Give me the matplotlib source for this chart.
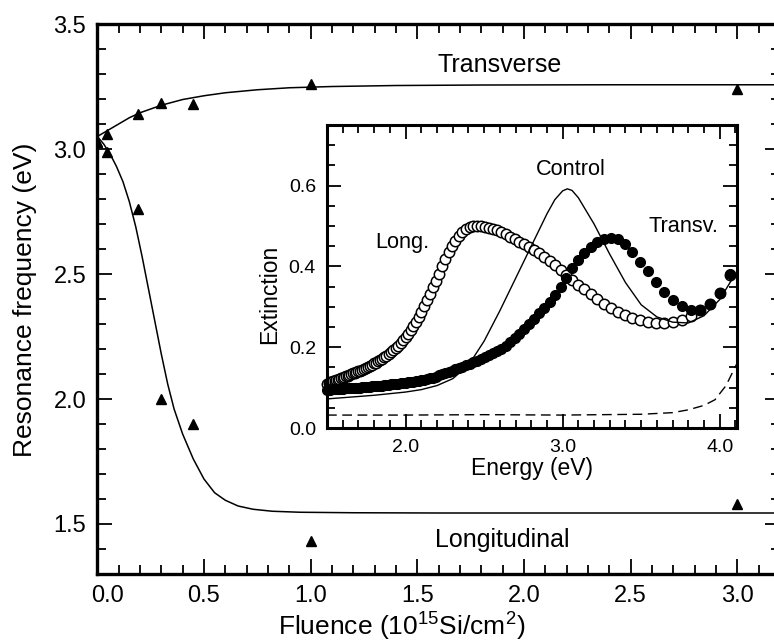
import numpy as np
import matplotlib
matplotlib.use("Agg")
from matplotlib import pyplot as plt
from matplotlib.ticker import MultipleLocator, FormatStrFormatter
from matplotlib.transforms import ScaledTranslation

plt.rcParams["font.family"] = ["Liberation Sans", "DejaVu Sans"]
plt.rcParams["mathtext.fontset"] = "custom"
plt.rcParams["mathtext.rm"] = "Liberation Sans"

# main panel: resonance position vs fluence
fluence = [0.0, 0.045, 0.19, 0.30, 0.45, 1.0, 3.0]
transverse = [3.03, 3.06, 3.14, 3.185, 3.18, 3.26, 3.24]
longitudinal = [3.03, 2.99, 2.76, 2.00, 1.90, 1.43, 1.58]

# fitted guide curves
fit_t_x = [0.0, 0.05, 0.10, 0.15, 0.20, 0.30, 0.40, 0.50, 0.60, 0.75, 0.90, 1.10, 1.40, 1.80, 2.40, 3.20]
fit_t_y = [3.05, 3.075, 3.10, 3.125, 3.145, 3.175, 3.198, 3.213, 3.225, 3.237, 3.245, 3.250, 3.254, 3.256, 3.257, 3.257]
fit_l_x = [0.0, 0.03, 0.06, 0.09, 0.12, 0.15, 0.18, 0.21, 0.24, 0.27, 0.30, 0.33, 0.36, 0.40, 0.45,
           0.50, 0.55, 0.60, 0.66, 0.73, 0.82, 0.95, 1.20, 1.60, 3.20]
fit_l_y = [3.05, 3.02, 2.98, 2.93, 2.87, 2.79, 2.69, 2.57, 2.44, 2.31, 2.18, 2.06, 1.96, 1.86, 1.76,
           1.68, 1.625, 1.595, 1.572, 1.559, 1.551, 1.547, 1.545, 1.544, 1.544]

# inset: extinction spectra (5 nm wavelength steps)
wavelength = np.arange(825, 300, -5)
energy = 1239.84 / wavelength
ext_long = [0.110, 0.111, 0.113, 0.114, 0.116, 0.117, 0.119, 0.120, 0.122, 0.123,
            0.125, 0.126, 0.128, 0.129, 0.131, 0.133, 0.135, 0.137, 0.139, 0.140,
            0.142, 0.144, 0.146, 0.149, 0.152, 0.154, 0.157, 0.160, 0.162, 0.165,
            0.168, 0.171, 0.175, 0.179, 0.183, 0.187, 0.192, 0.198, 0.204, 0.211,
            0.218, 0.225, 0.233, 0.243, 0.252, 0.263, 0.275, 0.288, 0.302, 0.317,
            0.332, 0.348, 0.365, 0.382, 0.400, 0.418, 0.435, 0.450, 0.463, 0.475,
            0.485, 0.492, 0.497, 0.500, 0.501, 0.500, 0.498, 0.496, 0.493, 0.489,
            0.484, 0.479, 0.473, 0.467, 0.461, 0.455, 0.448, 0.441, 0.433, 0.424,
            0.414, 0.403, 0.391, 0.379, 0.367, 0.355, 0.343, 0.331, 0.319, 0.307,
            0.297, 0.288, 0.280, 0.273, 0.267, 0.263, 0.260, 0.260, 0.262, 0.267,
            0.278, 0.292, 0.307, 0.334, 0.378]
ext_trans = [0.095, 0.095, 0.095, 0.096, 0.096, 0.096, 0.096, 0.097, 0.097, 0.097,
             0.097, 0.098, 0.098, 0.098, 0.098, 0.099, 0.099, 0.099, 0.100, 0.100,
             0.100, 0.101, 0.101, 0.101, 0.102, 0.102, 0.103, 0.103, 0.104, 0.104,
             0.105, 0.105, 0.106, 0.106, 0.107, 0.108, 0.108, 0.109, 0.110, 0.111,
             0.111, 0.112, 0.113, 0.114, 0.115, 0.116, 0.117, 0.118, 0.120, 0.121,
             0.123, 0.124, 0.126, 0.130, 0.133, 0.136, 0.139, 0.142, 0.145, 0.148,
             0.152, 0.155, 0.159, 0.163, 0.167, 0.171, 0.176, 0.180, 0.185, 0.190,
             0.196, 0.203, 0.212, 0.222, 0.233, 0.244, 0.257, 0.270, 0.284, 0.298,
             0.313, 0.330, 0.350, 0.372, 0.395, 0.415, 0.433, 0.448, 0.460, 0.468,
             0.471, 0.468, 0.456, 0.436, 0.412, 0.389, 0.362, 0.336, 0.316, 0.302,
             0.293, 0.291, 0.308, 0.335, 0.382]
ctrl_e = [1.50, 1.60, 1.70, 1.80, 1.90, 2.00, 2.10, 2.20, 2.30, 2.40, 2.50, 2.60, 2.70, 2.80,
          2.90, 2.95, 3.00, 3.03, 3.06, 3.10, 3.20, 3.30, 3.40, 3.50, 3.60, 3.70, 3.80, 3.90,
          4.00, 4.10]
ctrl_ext = [0.072, 0.075, 0.078, 0.081, 0.085, 0.089, 0.095, 0.105, 0.122, 0.155, 0.215, 0.290,
            0.370, 0.450, 0.530, 0.565, 0.587, 0.592, 0.588, 0.570, 0.505, 0.430, 0.360, 0.305,
            0.275, 0.262, 0.260, 0.278, 0.318, 0.382]
base_e = [1.50, 2.00, 2.50, 3.00, 3.50, 3.70, 3.80, 3.90, 3.97, 4.04, 4.11]
base_ext = [0.032, 0.032, 0.033, 0.032, 0.034, 0.038, 0.045, 0.056, 0.070, 0.105, 0.160]

fig = plt.figure(figsize=(7.74, 6.44), dpi=100)
ax = fig.add_axes([0.1257, 0.1087, 0.882, 0.854])

ax.plot(fit_t_x, fit_t_y, color="black", lw=1.1)
ax.plot(fit_l_x, fit_l_y, color="black", lw=1.1)
ax.plot(fluence, transverse, "^", color="black", ms=7.5)
ax.plot(fluence, longitudinal, "^", color="black", ms=7.5)

ax.set_xlim(0, 3.2)
ax.set_ylim(1.3, 3.5)
ax.set_xticks([0.0, 0.5, 1.0, 1.5, 2.0, 2.5, 3.0])
ax.set_yticks([1.5, 2.0, 2.5, 3.0, 3.5])
ax.xaxis.set_major_formatter(FormatStrFormatter("%.1f"))
ax.yaxis.set_major_formatter(FormatStrFormatter("%.1f"))
ax.xaxis.set_minor_locator(MultipleLocator(0.1))
ax.yaxis.set_minor_locator(MultipleLocator(0.1))
ax.tick_params(which="both", direction="in", top=True, right=True, width=1.3, labelsize=17)
ax.tick_params(which="major", length=11, pad=8)
ax.tick_params(which="minor", length=6.5)
for s in ax.spines.values():
    s.set_linewidth(2.4)

first = ax.get_xticklabels()[0]
first.set_transform(first.get_transform() + ScaledTranslation(7 / 72, 0, fig.dpi_scale_trans))

ax.set_xlabel("Fluence (10$^{15}$Si/cm$^{2}$)", fontsize=19)
ax.set_ylabel("Resonance frequency (eV)", fontsize=19)
ax.xaxis.set_label_coords(0.446, -0.064)
ax.yaxis.set_label_coords(-0.088, 0.498)

ax.text(1.886, 3.337, "Transverse", fontsize=18, ha="center", va="center")
ax.text(1.90, 1.436, "Longitudinal", fontsize=18, ha="center", va="center")

# inset
ins = fig.add_axes([0.4225, 0.3354, 0.5297, 0.4705])
ins.plot(energy, ext_long, "o", mfc="white", mec="black", mew=1.1, ms=7.5, clip_on=False)
ins.plot(energy, ext_trans, "o", color="black", ms=7, clip_on=False)
ins.plot(ctrl_e, ctrl_ext, color="black", lw=1.0)
ins.plot(base_e, base_ext, color="black", lw=1.0, ls=(0, (7, 4)))

ins.set_xlim(1.5, 4.11)
ins.set_ylim(0, 0.75)
ins.set_xticks([2.0, 3.0, 4.0])
ins.set_yticks([0.0, 0.2, 0.4, 0.6])
ins.xaxis.set_major_formatter(FormatStrFormatter("%.1f"))
ins.yaxis.set_major_formatter(FormatStrFormatter("%.1f"))
ins.xaxis.set_minor_locator(MultipleLocator(0.1))
ins.yaxis.set_minor_locator(MultipleLocator(0.05))
ins.tick_params(which="both", direction="in", top=True, right=True, width=1.3, labelsize=14)
ins.tick_params(which="major", length=10, pad=8)
ins.tick_params(which="minor", length=5.5)
for s in ins.spines.values():
    s.set_linewidth(2.2)

ins.set_xlabel("Energy (eV)", fontsize=16.5)
ins.set_ylabel("Extinction", fontsize=16.5)
ins.xaxis.set_label_coords(0.50, -0.095)
ins.yaxis.set_label_coords(-0.112, 0.44)

ins.text(1.98, 0.46, "Long.", fontsize=15.7, ha="center", va="center")
ins.text(3.05, 0.64, "Control", fontsize=15.7, ha="center", va="center")
ins.text(3.77, 0.50, "Transv.", fontsize=15.7, ha="center", va="center")

fig.savefig("out.png", dpi=100)
